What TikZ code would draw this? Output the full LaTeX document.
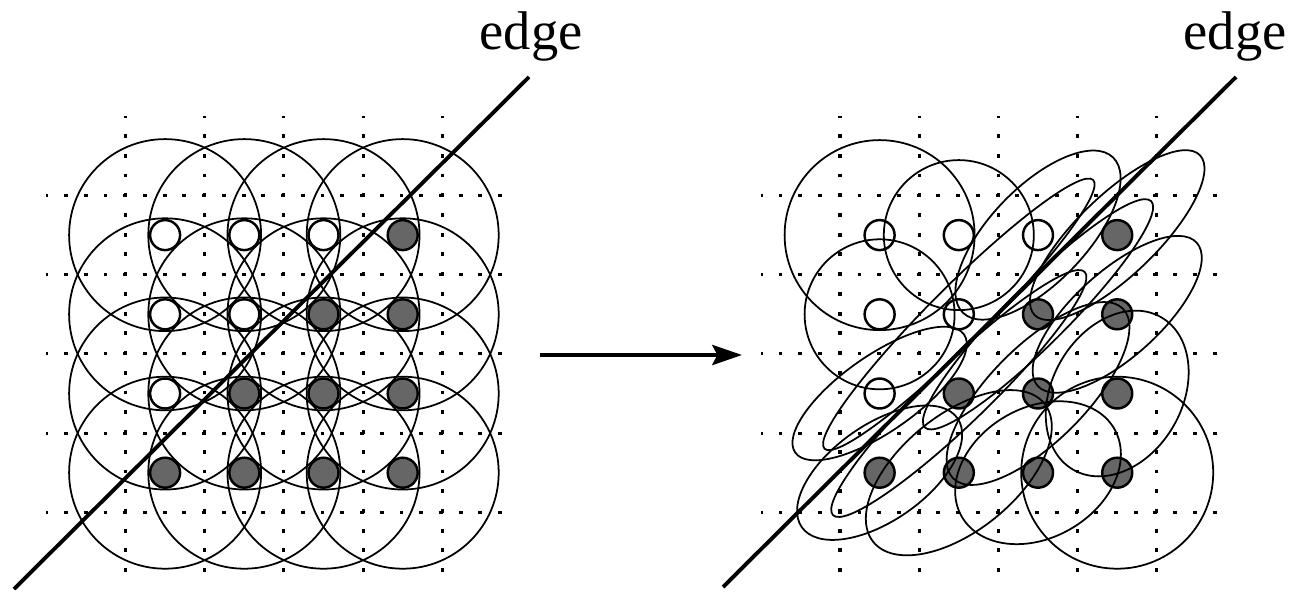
\documentclass[tikz,border=0pt]{standalone}
\usepackage{fontspec}
\setmainfont{Liberation Serif}
\usetikzlibrary{arrows.meta, backgrounds}

\begin{document}
\begin{tikzpicture}[
        x=0.02cm, y=-0.02cm,
        >={Stealth[length=17pt, width=11.5pt, inset=3pt]},
        % grid of pixel borders, 4 dots per cell
        gridline/.style ={line width=1.8pt, dash pattern=on 2.2pt off 9.03pt, dash phase=1.1pt},
        kern/.style     ={line width=1pt},
        pix/.style      ={circle, draw, line width=1.4pt, minimum size=0.6cm, inner sep=0pt},
        edgeline/.style ={line width=2.2pt},
        lbl/.style      ={font=\fontsize{31}{36}\selectfont, inner sep=0pt, anchor=base}
    ]
    \path[use as bounding box] (0,0) rectangle (1300,592);

    % dotted pixel grids, left (classic) and right (adapted)
    \foreach \k in {0,...,4} {
        \draw[gridline] (125.5+79.2*\k,116.3) -- (125.5+79.2*\k,580);
        \draw[gridline] (46.3,195.5+79.2*\k) -- (515,195.5+79.2*\k);
        \draw[gridline] (840+79.2*\k,116.3) -- (840+79.2*\k,580);
        \draw[gridline] (760.8,195.5+79.2*\k) -- (1230,195.5+79.2*\k);
    }

    % pixels: white above the edge, grey below it
    \foreach \r in {1,...,4} {
        \foreach \c in {1,...,4} {
            \ifnum\numexpr\r+\c\relax>4 \def\pixfill{black!60}\else\def\pixfill{white}\fi
            \node[pix, fill=\pixfill] (L\r\c) at (85.9+79.2*\c,155.9+79.2*\r) {};
            \node[pix, fill=\pixfill] (R\r\c) at (800.4+79.2*\c,155.9+79.2*\r) {};
        }
    }

    % classic kernels: same circle everywhere
    \begin{scope}[on background layer]
        \foreach \r in {1,...,4}
            \foreach \c in {1,...,4}
                \draw[kern] (L\r\c) circle (96);
    \end{scope}

    % adapted kernels: row/col/long radius/short radius/angle
    \foreach \r/\c/\a/\b/\t in {1/1/95/95/0, 1/2/75/75/0, 2/1/75/75/0, 4/4/96/96/0,
            4/3/88/65/30, 3/4/88/65/60, 1/3/108/48/46, 3/1/103/38/35,
            1/4/115/40/44, 4/1/95/48/35, 2/4/107/43/42, 4/2/110/58/39,
            3/3/120/48/45, 2/2/190/28/45, 2/3/160/30/45, 3/2/175/30/44}
        \draw[kern, rotate around={\t:(R\r\c)}] (R\r\c) ellipse [x radius=\a, y radius=\b];

    % the edge
    \coordinate (edgeLa) at (14,589);
    \coordinate (edgeLb) at (529,77);
    \coordinate (edgeRa) at (723,587);
    \coordinate (edgeRb) at (1236,77);
    \draw[edgeline] (edgeLa) -- (edgeLb);
    \draw[edgeline] (edgeRa) -- (edgeRb);
    \node[lbl] (edgeL) at (531,49) {edge};
    \node[lbl] (edgeR) at (1235,49) {edge};

    \coordinate (from) at (540,355);
    \coordinate (to) at (742,355);
    \draw[->, line width=2pt] (from) -- (to);

\end{tikzpicture}
\end{document}
